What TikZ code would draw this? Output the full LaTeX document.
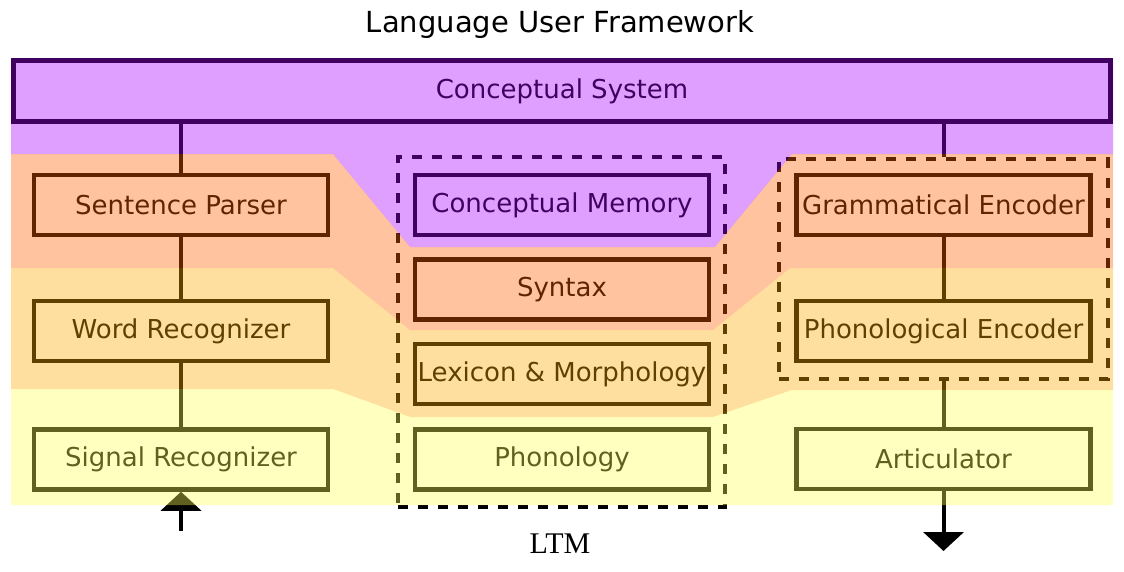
\documentclass[tikz,border=0pt]{standalone}
\usepackage{fontspec}
\newfontfamily\geneva{DejaVu Sans}
\newfontfamily\ltmfont{Liberation Serif}
\usetikzlibrary{arrows.meta}

\definecolor{purpleband}{RGB}{170,0,255}
\definecolor{orangeband}{RGB}{255,96,0}
\definecolor{tanband}{RGB}{255,171,0}
\definecolor{yellowband}{RGB}{255,255,85}

\tikzset{
  module/.style={draw, line width=4.5pt, minimum width=294pt, minimum height=60pt,
    inner sep=1pt, font=\geneva\fontsize{26}{30}\selectfont},
  group/.style={draw, line width=4pt, dash pattern=on 10pt off 10pt,
    minimum width=327pt, inner sep=0pt},
  link/.style={line width=4pt},
  signal/.style={line width=4pt, -{Triangle[length=19pt, width=40pt]}},
  band/.style={fill opacity=0.375}
}

\begin{document}
\begin{tikzpicture}[x=1pt, y=-1pt]
    \useasboundingbox (0,0) rectangle (1124,571);

    \node[font=\geneva\fontsize{29}{34}\selectfont] (title) at (560,24) {Language User Framework};

    \node[module, minimum width=1097pt, minimum height=61pt] (cs) at (562,91) {Conceptual System};

    \node[module] (parser) at (181,205) {Sentence Parser};
    \node[module] (wordrec) at (181,331) {Word Recognizer};
    \node[module] (sigrec) at (181,459.5) {Signal Recognizer};

    \draw[link] (cs.south -| parser.north) -- (parser.north);
    \draw[link] (parser) -- (wordrec);
    \draw[link] (wordrec) -- (sigrec);
    \coordinate (in) at (181,531);
    \draw[signal] (in) -- (sigrec.south);


    \node[module] (cmem) at (562,205) {Conceptual Memory};
    \node[module] (syntax) at (562,289.5) {Syntax};
    \node[module] (lexicon) at (562,374) {Lexicon \& Morphology};
    \node[module] (phonology) at (562,459.5) {Phonology};

    \node[group, minimum height=350pt] (ltmbox) at (561.5,332) {};
    \node[font=\ltmfont\fontsize{30}{34}\selectfont] (ltm) at (560,544) {LTM};


    \node[module] (gramenc) at (943.5,205) {Grammatical Encoder};
    \node[module] (phonenc) at (943.5,331) {Phonological Encoder};
    \node[module] (artic) at (943.5,459) {Articulator};

    \node[group, minimum width=328.5pt, minimum height=220pt] (encbox) at (943.5,269) {};

    \draw[link] (cs.south -| encbox.north) -- (encbox.north);
    \draw[link] (gramenc) -- (phonenc);
    \draw[link] (encbox.south) -- (artic.north);
    \coordinate (out) at (943.5,551);
    \draw[signal] (artic.south) -- (out);


    \fill[band, purpleband] (11,58) -- (1113,58) -- (1113,154) -- (792,154) -- (715,247)
        -- (410,247) -- (333,154) -- (11,154) -- cycle;
    \fill[band, orangeband] (11,154) -- (333,154) -- (410,247) -- (715,247) -- (792,154)
        -- (1113,154) -- (1113,268) -- (790,268) -- (713,330) -- (410,330) -- (333,268) -- (11,268) -- cycle;
    \fill[band, tanband] (11,268) -- (333,268) -- (410,330) -- (713,330) -- (790,268)
        -- (1113,268) -- (1113,390) -- (792,390) -- (713,417) -- (410,417) -- (333,389) -- (11,389) -- cycle;
    \fill[band, yellowband] (11,389) -- (333,389) -- (410,417) -- (713,417) -- (792,390)
        -- (1113,390) -- (1113,505) -- (11,505) -- cycle;

\end{tikzpicture}
\end{document}
